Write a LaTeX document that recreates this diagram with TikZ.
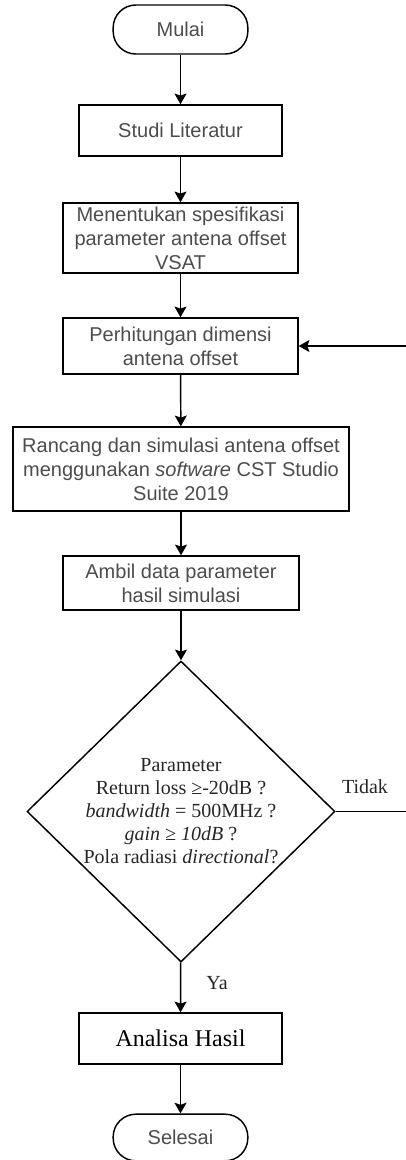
\documentclass[tikz,border=0pt]{standalone}
\usepackage{fontspec}
\setmainfont{Liberation Serif}
\setsansfont{Liberation Sans}
\usetikzlibrary{shapes.geometric,arrows.meta,positioning}

\begin{document}
\begin{tikzpicture}[
	x=0.75pt, y=-0.75pt,
	terminal/.style={rectangle, draw, line width=1.1pt, rounded corners=17pt, minimum width=101pt, inner sep=0pt, font=\sffamily\fontsize{15}{18}\selectfont, text=black!70},
	process/.style={rectangle, draw, line width=1.1pt, align=center, inner sep=0pt, font=\sffamily\fontsize{15}{18}\selectfont, text=black!70},
	decision/.style={diamond, draw, line width=1.1pt, align=center, inner sep=0pt, minimum width=231pt, minimum height=225.75pt, font=\fontsize{15}{17.25}\selectfont, text=black!85},
	label/.style={font=\fontsize{15}{18}\selectfont, text=black!85},
	connection/.style={-{Stealth[length=8pt, width=9pt, inset=1.5pt]}, line width=1.1pt}
	]
	
	% Page frame
	\useasboundingbox (0,0) rectangle (406,1160);
	\clip (0,0) rectangle (406,1160);
	
	% Start and end
	\node[terminal, minimum height=36.75pt] (mulai) at (180.5, 29.5) {Mulai};
	\node[terminal, minimum height=35pt] (selesai) at (180.5, 1137.5) {Selesai};
	
	% Process steps
	\node[process, minimum width=152.25pt, minimum height=38.25pt] (studi) at (180.5, 130.5) {Studi Literatur};
	\node[process, minimum width=176.25pt, minimum height=52.5pt] (spesifikasi) at (180.5, 238) {Menentukan spesifikasi\\parameter antena offset\\VSAT};
	\node[process, minimum width=176.25pt, minimum height=42pt] (hitung) at (180.5, 346) {Perhitungan dimensi\\antena offset};
	\node[process, minimum width=252pt, minimum height=63pt] (rancang) at (181, 469) {Rancang dan simulasi antena offset\\menggunakan \textit{software} CST Studio\\Suite 2019};
	\node[process, minimum width=177pt, minimum height=40.5pt] (ambil) at (181, 583) {Ambil data parameter\\hasil simulasi};
	
	% Decision
	\node[decision] (cek) at (181, 811.5) {Parameter\\Return loss ≥-20dB ?\\\textit{bandwidth} = 500MHz ?\\\textit{gain ≥ 10dB} ?\\Pola radiasi \textit{directional}?};
	
	% Result
	\node[process, minimum width=152.25pt, minimum height=38.25pt, font=\fontsize{18}{21}\selectfont, text=black] (analisa) at (180.5, 1038.5) {Analisa Hasil};
	
	% Branch labels
	\node[label] (tidak) at (365, 787) {Tidak};
	\node[label] (ya) at (217, 983) {Ya};
	\coordinate (balik) at (414, 811.5);
	
	% Main flow
	\draw[connection] (mulai) -- (studi);
	\draw[connection] (studi) -- (spesifikasi);
	\draw[connection] (spesifikasi) -- (hitung);
	\draw[connection] (hitung) -- (rancang);
	\draw[connection] (rancang) -- (ambil);
	\draw[connection] (ambil) -- (cek);
	\draw[connection] (cek) -- (analisa);
	\draw[connection] (analisa) -- (selesai);
	
	% Loop back when the parameters fail
	\draw[connection] (cek.east) -- (balik) |- (hitung.east);
	
\end{tikzpicture}
\end{document}
